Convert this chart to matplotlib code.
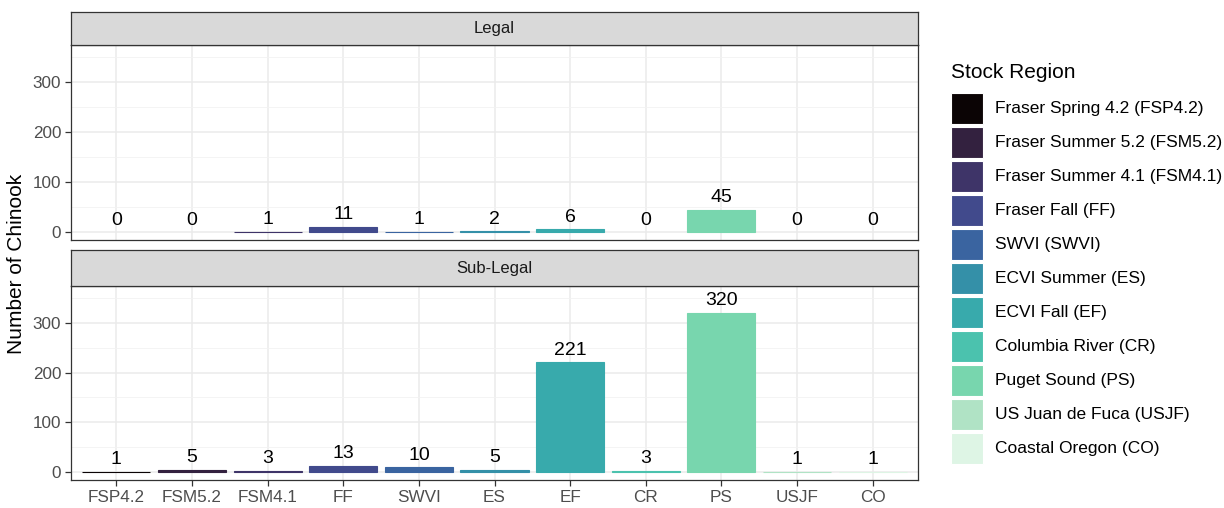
import matplotlib
matplotlib.use("Agg")
import matplotlib.pyplot as plt
import numpy as np
from matplotlib.patches import Rectangle

plt.rcParams['font.family'] = ['Liberation Sans', 'DejaVu Sans']

codes = ["FSP4.2", "FSM5.2", "FSM4.1", "FF", "SWVI", "ES", "EF", "CR", "PS", "USJF", "CO"]
names = ["Fraser Spring 4.2 (FSP4.2)", "Fraser Summer 5.2 (FSM5.2)", "Fraser Summer 4.1 (FSM4.1)",
         "Fraser Fall (FF)", "SWVI (SWVI)", "ECVI Summer (ES)", "ECVI Fall (EF)",
         "Columbia River (CR)", "Puget Sound (PS)", "US Juan de Fuca (USJF)", "Coastal Oregon (CO)"]
legal = [0, 0, 1, 11, 1, 2, 6, 0, 45, 0, 0]
sublegal = [1, 5, 3, 13, 10, 5, 221, 3, 320, 1, 1]
panels = ["Legal", "Sub-Legal"]

colors = ["#0B0405", "#33213F", "#3E3468", "#414A8C", "#3A64A0", "#3490A8",
          "#38AAAC", "#4BC2AE", "#78D6AE", "#B0E3C5", "#DEF5E5"]

W, H = 1224, 508
fig = plt.figure(figsize=(W / 100, H / 100), dpi=100)

def fx(px):
    return px / W

def fy(py):
    return 1 - py / H

left, right = 71, 918
layout = [(12, 45, 240), (250, 286, 480)]
x = np.arange(len(codes))

for i, (vals, title, (st, pt, pb)) in enumerate(zip([legal, sublegal], panels, layout)):
    ax = fig.add_axes([fx(left), fy(pb), fx(right - left), (pb - pt) / H])
    ax.set_axisbelow(True)
    for xi, v, c in zip(x, vals, colors):
        if v > 0:
            ax.bar(xi, v, width=0.9, color=c, edgecolor=c, linewidth=0.8, zorder=2)
    for xi, v in zip(x, vals):
        ax.annotate(str(v), (xi, v), xytext=(0, 2.5), textcoords='offset points',
                    ha='center', va='bottom', fontsize=14, color='black', zorder=3)
    ax.set_xlim(-0.6, len(codes) - 0.4)
    ax.set_ylim(-16, 374)
    ax.set_yticks([0, 100, 200, 300])
    ax.set_yticks([50, 150, 250, 350], minor=True)
    ax.set_xticks(x)
    ax.grid(True, which='major', color='#EBEBEB', linewidth=1.1)
    ax.grid(True, which='minor', axis='y', color='#F2F2F2', linewidth=0.6)
    ax.tick_params(axis='y', which='minor', length=0)
    ax.tick_params(axis='both', which='major', length=4, color='#333333', width=0.9,
                   labelsize=12.3, labelcolor='#4D4D4D', pad=3)
    for s in ax.spines.values():
        s.set_color('#333333')
        s.set_linewidth(0.9)
    if i == 0:
        ax.tick_params(axis='x', which='both', length=0, labelbottom=False)
    else:
        ax.set_xticklabels(codes)
    # strip
    sax = fig.add_axes([fx(left), fy(pt), fx(right - left), (pt - st) / H])
    sax.set_facecolor('#D9D9D9')
    sax.set_xticks([])
    sax.set_yticks([])
    for s in sax.spines.values():
        s.set_color('#333333')
        s.set_linewidth(0.9)
    sax.text(0.5, 0.5, title, ha='center', va='center', fontsize=12, color='#1A1A1A',
             transform=sax.transAxes)

fig.text(fx(17), fy(264), "Number of Chinook", rotation=90, ha='center', va='center',
         fontsize=15, color='black')

# legend
fig.text(fx(951), fy(73), "Stock Region", ha='left', va='center', fontsize=15, color='black')
key_top = 93
for k, (nm, c) in enumerate(zip(names, colors)):
    top = key_top + 34 * k
    fig.patches.append(Rectangle((fx(951), fy(top + 31)), fx(32), 31 / H, transform=fig.transFigure,
                                 facecolor=c, edgecolor='white', linewidth=0.8))
    fig.text(fx(995), fy(top + 15.5), nm, ha='left', va='center', fontsize=12.5, color='black')

fig.savefig("out.png", dpi=100)
